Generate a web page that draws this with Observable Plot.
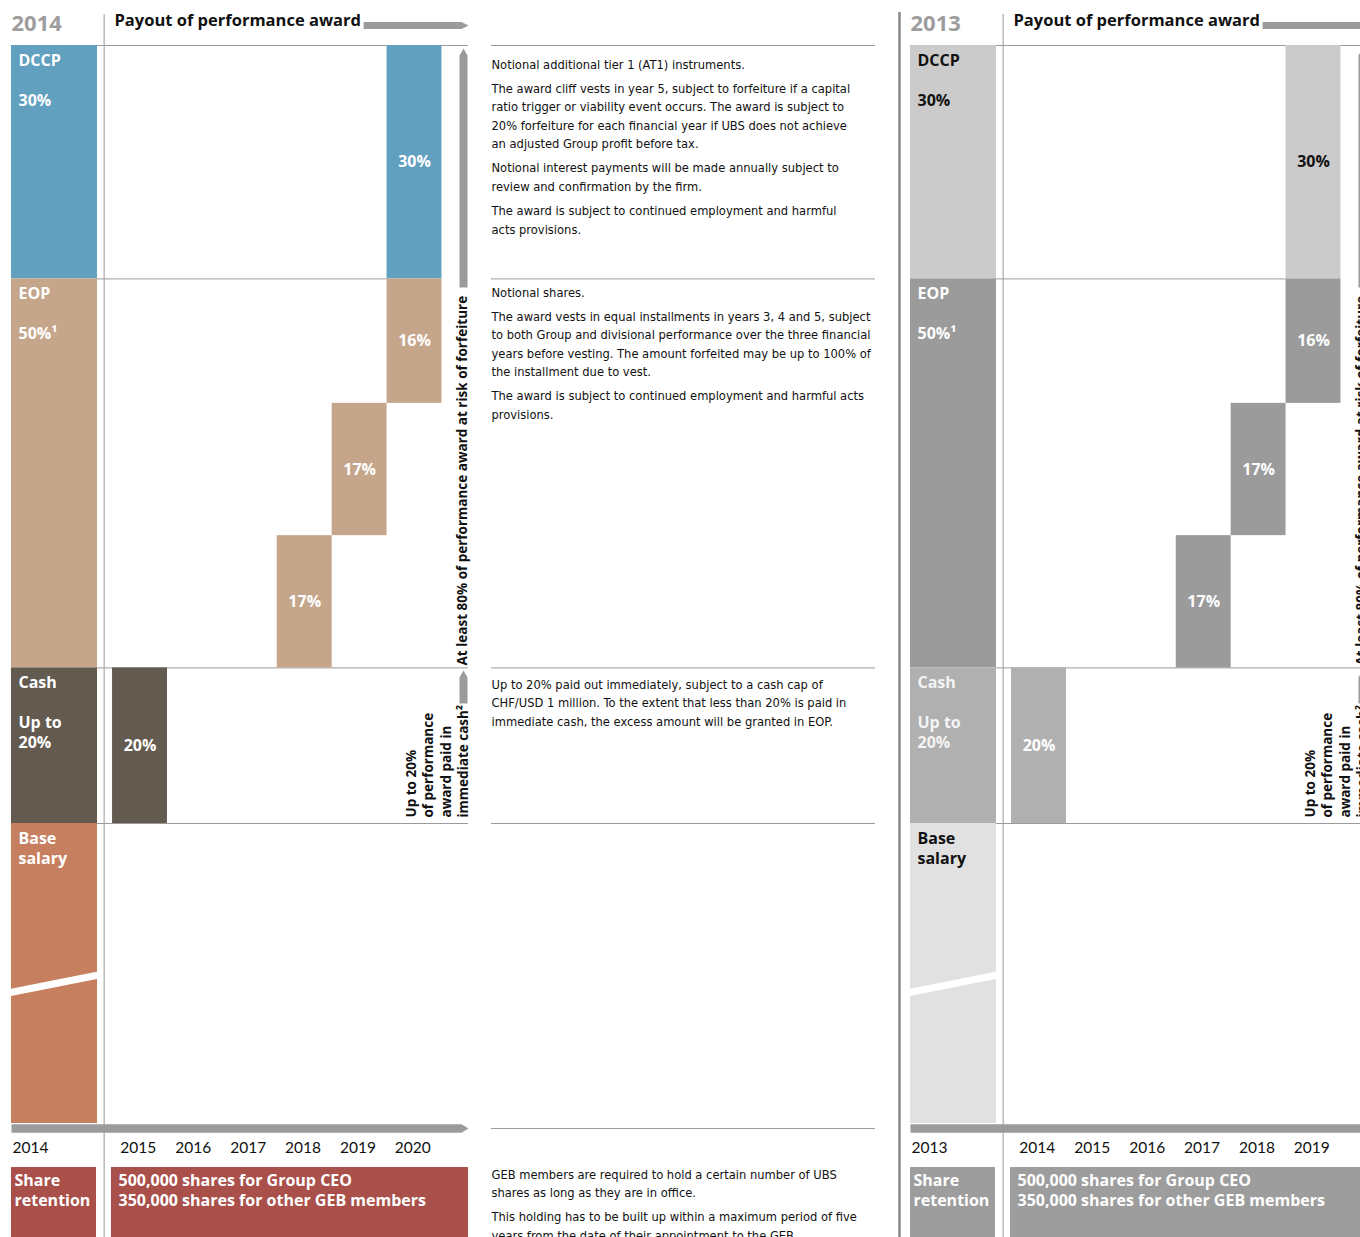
<!DOCTYPE html>
<html><head><meta charset="utf-8">
<script src="https://cdn.jsdelivr.net/npm/d3@7"></script>
<script src="https://cdn.jsdelivr.net/npm/@observablehq/plot@0.6"></script>
<style>
body{margin:0;background:#fff;}
#chart{width:1360px;height:1237px;overflow:hidden;position:relative;}
#chart svg{overflow:hidden;}
</style></head><body><div id="chart"></div>
<script>
// ---------------- data ----------------
const panelGrantYears = [2014, 2013];
const yearsAfterGrant = [1, 2, 3, 4, 5, 6];
const components = ["DCCP", "EOP", "Cash", "Base salary"];
const componentLabels = ["DCCP\n\n30%", "EOP\n\n50%¹", "Cash\n\nUp to\n20%", "Base\nsalary"];
const componentShare = [30, 50, 20];            // % of performance award
const vestComponent = ["DCCP", "EOP", "EOP", "EOP", "Cash"];
const vestYearsAfterGrant = [6, 6, 5, 4, 1];
const vestShare = [30, 16, 17, 17, 20];
const vestLabels = ["30%", "16%", "17%", "17%", "20%"];
const headerTitle = "Payout of performance award";
const riskNote = "At least 80% of performance award at risk of forfeiture";
const cashNote = "Up to 20%\nof performance\naward paid in\nimmediate cash²";
const retentionLabel = "Share\nretention";
const retentionText = "500,000 shares for Group CEO\n350,000 shares for other GEB members";
const noteDCCP = [
  ["Notional additional tier 1 (AT1) instruments."],
  ["The award cliff vests in year 5, subject to forfeiture if a capital",
   "ratio trigger or viability event occurs. The award is subject to",
   "20% forfeiture for each financial year if UBS does not achieve",
   "an adjusted Group profit before tax."],
  ["Notional interest payments will be made annually subject to",
   "review and confirmation by the firm."],
  ["The award is subject to continued employment and harmful",
   "acts provisions."]
];
const noteEOP = [
  ["Notional shares."],
  ["The award vests in equal installments in years 3, 4 and 5, subject",
   "to both Group and divisional performance over the three financial",
   "years before vesting. The amount forfeited may be up to 100% of",
   "the installment due to vest."],
  ["The award is subject to continued employment and harmful acts",
   "provisions."]
];
const noteCash = [
  ["Up to 20% paid out immediately, subject to a cash cap of",
   "CHF/USD 1 million. To the extent that less than 20% is paid in",
   "immediate cash, the excess amount will be granted in EOP."]
];
const noteRetention = [
  ["GEB members are required to hold a certain number of UBS",
   "shares as long as they are in office."],
  ["This holding has to be built up within a maximum period of five",
   "years from the date of their appointment to the GEB."]
];

// ---------------- layout (scale units: x = years after grant, y = % of award) ----------------
const X0 = -1.541, X1 = 23.231, Y0 = -5.784, Y1 = 153.213;
const W = 1360, H = 1237;
const PX_X = W / (X1 - X0), PX_Y = H / (Y1 - Y0);
const PANEL_OFFSET = [0, 16.375];
const GRANT_L = -1.341, GRANT_R = 0.226, DIVIDER = 0.347, PANEL_R = 6.984;
const BASE_END = 138.56, AXIS_Y = 139.2, YEAR_LABEL_Y = 141.65;
const RET_TOP = 144.22, RET_TEXT_TOP = 144.75;
const NOTE_X = 7.4026, NOTE_R = 14.397;
const noteTop = [2.442, 31.748, 82.134, 145.116];

const palette = [
  {bands: ["#62A0BF", "#C6A68B", "#635A50", "#C6805F"], bandText: ["#fff", "#fff", "#fff", "#fff"],
   vestText: ["#fff", "#fff", "#fff", "#fff", "#fff"], retention: "#A9504A"},
  {bands: ["#CBCBCB", "#9B9B9B", "#B0B0B0", "#E1E1E1"], bandText: ["#111", "#fff", "#f4f4f4", "#111"],
   vestText: ["#111", "#fff", "#fff", "#fff", "#fff"], retention: "#9D9D9D"}
];
const GRAY = "#9B9B9B";

// ---------------- derived ----------------
const bandEnds = [...d3.cumsum(componentShare), BASE_END];
const bandStarts = [0, ...d3.cumsum(componentShare)];
const vestEnds = Array.from(d3.cumsum(vestShare));

const grantRects = [], vestRects = [], grantText = [], vestText = [], hRules = [];
const arrows = [], texts = [];
panelGrantYears.forEach((gy, p) => {
  const o = PANEL_OFFSET[p], pal = palette[p];
  components.forEach((c, i) => {
    grantRects.push({x1: GRANT_L + o, x2: GRANT_R + o, y1: bandStarts[i], y2: bandEnds[i], fill: pal.bands[i]});
    grantText.push({x: GRANT_L + o + 0.128, y: bandStarts[i] + 0.75, text: componentLabels[i], fill: pal.bandText[i]});
  });
  vestShare.forEach((v, i) => {
    const k = vestYearsAfterGrant[i], ci = components.indexOf(vestComponent[i]);
    vestRects.push({x1: o + k - 0.5, x2: o + k + 0.5, y1: vestEnds[i] - v, y2: vestEnds[i], fill: pal.bands[ci]});
    vestText.push({x: o + k, y: vestEnds[i] - v / 2, text: vestLabels[i], fill: pal.vestText[i]});
  });
  // horizontal rules
  hRules.push({y: 0, x1: GRANT_L + o, x2: PANEL_R + o});
  hRules.push({y: bandEnds[0], x1: GRANT_R + o, x2: o + vestYearsAfterGrant[0] - 0.5});
  hRules.push({y: bandEnds[1], x1: GRANT_R + o, x2: PANEL_R + o});
  hRules.push({y: bandEnds[2], x1: GRANT_R + o, x2: PANEL_R + o});
  // arrows
  const hx = 3.5 / PX_Y, tx = 7 / PX_X, vw = 4 / PX_X, vt = 7 / PX_Y;
  const hArrow = (id, xa, xb, y, half) => [[xa, y - half], [xb - tx, y - half], [xb, y], [xb - tx, y + half], [xa, y + half]]
    .map(([x, yy]) => ({id: id + p, x, y: yy}));
  const vArrow = (id, x, yb, yt) => [[x - vw, yb], [x - vw, yt + vt], [x, yt], [x + vw, yt + vt], [x + vw, yb]]
    .map(([xx, y]) => ({id: id + p, x: xx, y}));
  arrows.push(...hArrow("top", 5.073 + o, PANEL_R + o, -2.571, hx));
  arrows.push(...hArrow("axis", GRANT_L + o, PANEL_R + o, AXIS_Y, 4.3 / PX_Y));
  arrows.push(...vArrow("risk", 6.8925 + o, 31.106, 0.386));
  arrows.push(...vArrow("cash", 6.8925 + o, 84.576, 80.334));
  // retention
  grantRects.push({x1: GRANT_L + o, x2: 0.2077 + o, y1: RET_TOP, y2: Y1 + 1, fill: pal.retention});
  grantRects.push({x1: 0.4809 + o, x2: PANEL_R + o, y1: RET_TOP, y2: Y1 + 1, fill: pal.retention});
  // texts
  texts.push({kind: "year", x: GRANT_L + o, y: -2.78, text: String(gy)});
  texts.push({kind: "header", x: 0.5355 + o, y: -3.21, text: headerTitle});
  texts.push({kind: "risk", x: 6.874 + o, y: 79.69, text: riskNote});
  texts.push({kind: "cash", x: 6.40 + o, y: 99.23, text: cashNote});
  texts.push({kind: "retL", x: -1.286 + o, y: RET_TEXT_TOP, text: retentionLabel});
  texts.push({kind: "retT", x: 0.6084 + o, y: RET_TEXT_TOP, text: retentionText});
  texts.push({kind: "tickG", x: -1.3224 + o, y: YEAR_LABEL_Y, text: String(gy)});
  yearsAfterGrant.forEach(k => texts.push({kind: "tick", x: o + k - 0.03, y: YEAR_LABEL_Y, text: String(gy + k)}));
});
[0, bandEnds[0], bandEnds[1], bandEnds[2], AXIS_Y].forEach(y => hRules.push({y, x1: NOTE_X, x2: NOTE_R}));

const LINE = 18.6 / PX_Y, PARA = 5.4 / PX_Y;
const noteLines = [];
[noteDCCP, noteEOP, noteCash, noteRetention].forEach((block, bi) => {
  let y = noteTop[bi];
  block.forEach((para, pi) => {
    if (pi > 0) y += PARA;
    para.forEach(line => { noteLines.push({x: NOTE_X, y, text: line}); y += LINE; });
  });
});

const vRules = PANEL_OFFSET.map(o => ({x: DIVIDER + o, y1: -3.985, y2: Y1}));
const breaks = PANEL_OFFSET.map(o => ({x1: GRANT_L + o - 0.02, x2: GRANT_R + o + 0.02, y1: 121.72, y2: 119.47}));

const BOLD = "'Open Sans', Lato, sans-serif";
const T = k => texts.filter(d => d.kind === k);

const chart = Plot.plot({
  width: W, height: H, margin: 0,
  x: {domain: [X0, X1], range: [0, W], axis: null},
  y: {domain: [Y0, Y1], range: [0, H], axis: null},
  style: {fontFamily: BOLD, background: "#fff", overflow: "hidden"},
  marks: [
    Plot.ruleY(hRules, {y: "y", x1: "x1", x2: "x2", stroke: GRAY, strokeWidth: 1}),
    Plot.rect(grantRects, {x1: "x1", x2: "x2", y1: "y1", y2: "y2", fill: "fill"}),
    Plot.rect(vestRects, {x1: "x1", x2: "x2", y1: "y1", y2: "y2", fill: "fill"}),
    Plot.link(breaks, {x1: "x1", x2: "x2", y1: "y1", y2: "y2", stroke: "#fff", strokeWidth: 7}),
    Plot.line(arrows, {x: "x", y: "y", z: "id", fill: GRAY, stroke: "none"}),
    Plot.ruleX(vRules, {x: "x", y1: "y1", y2: "y2", stroke: GRAY, strokeWidth: 1}),
    Plot.ruleX([{x: 14.834, y1: -4.24, y2: Y1}], {x: "x", y1: "y1", y2: "y2", stroke: "#8a8a8a", strokeWidth: 2.5}),
    Plot.text(grantText, {x: "x", y: "y", text: "text", fill: "fill", textAnchor: "start", lineAnchor: "top",
      fontWeight: "bold", fontSize: 16, lineHeight: 20 / 16}),
    Plot.text(vestText, {x: "x", y: "y", text: "text", fill: "fill", fontWeight: "bold", fontSize: 16}),
    Plot.text(T("year"), {x: "x", y: "y", text: "text", textAnchor: "start", fill: "#9d9d9d", fontWeight: "bold", fontSize: 22}),
    Plot.text(T("header"), {x: "x", y: "y", text: "text", textAnchor: "start", fill: "#111", fontWeight: "bold", fontSize: 16.5}),
    Plot.text(T("risk"), {x: "x", y: "y", text: "text", rotate: -90, textAnchor: "start", fill: "#111", fontWeight: "bold", fontSize: 13.5}),
    Plot.text(T("cash"), {x: "x", y: "y", text: "text", rotate: -90, textAnchor: "start", fill: "#111", fontWeight: "bold", fontSize: 13.5, lineHeight: 17.3 / 13.5}),
    Plot.text([...T("retL"), ...T("retT")], {x: "x", y: "y", text: "text", textAnchor: "start", lineAnchor: "top", fill: "#fff", fontWeight: "bold", fontSize: 16, lineHeight: 20 / 16}),
    Plot.text(T("tickG"), {x: "x", y: "y", text: "text", textAnchor: "start", fill: "#111", fontSize: 15.5, fontFamily: "Lato, sans-serif"}),
    Plot.text(T("tick"), {x: "x", y: "y", text: "text", fill: "#111", fontSize: 15.5, fontFamily: "Lato, sans-serif"}),
    Plot.text(noteLines, {x: "x", y: "y", text: "text", textAnchor: "start", fill: "#111", fontSize: 12.8,
      fontFamily: "'DejaVu Sans Condensed', 'Liberation Sans Narrow', sans-serif"})
  ]
});
document.getElementById("chart").appendChild(chart);
</script></body></html>
